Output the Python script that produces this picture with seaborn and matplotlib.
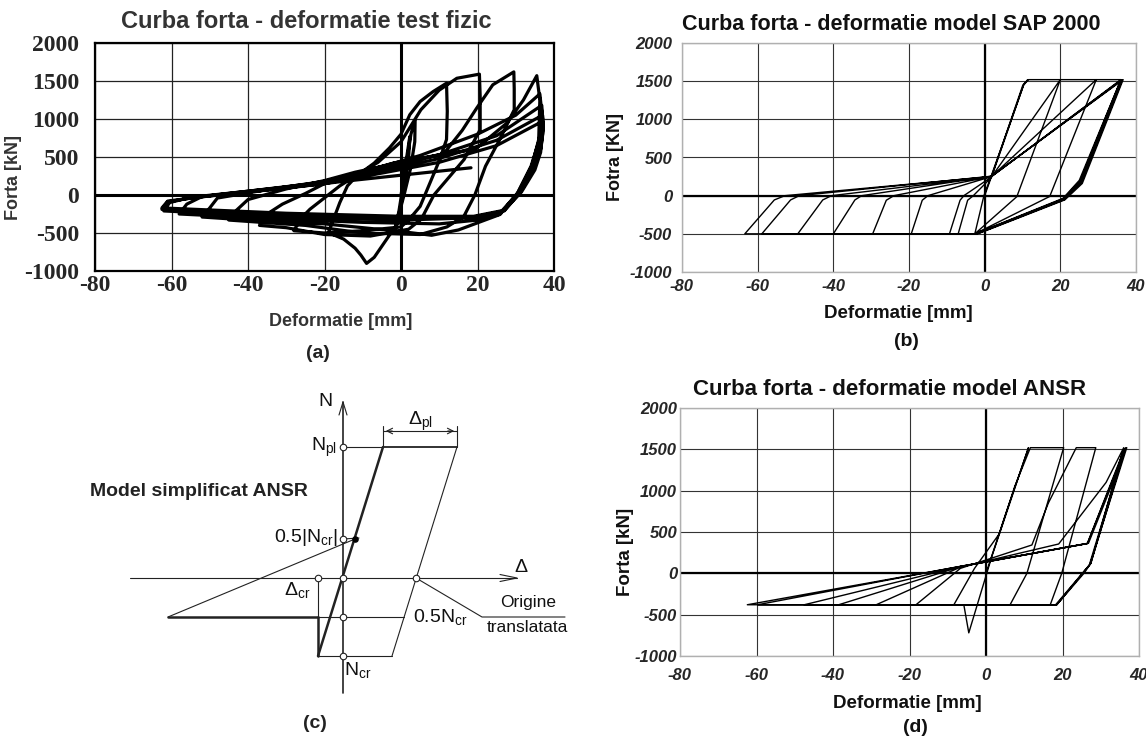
#%%
import numpy as np
import pandas as pd
import matplotlib
matplotlib.use('Agg')
import matplotlib.pyplot as plt
import seaborn as sns
from matplotlib.ticker import MultipleLocator

#%% Data
ticks_x = [-80, -60, -40, -20, 0, 20, 40]
ticks_y = [-1000, -500, 0, 500, 1000, 1500, 2000]

# (a) physical test, one continuous load history
a_x = [0, 1.2, 2.6, 3.7, 3.6, 2.5, 0.8, -0.8, -1.5, -0.5, 0.6, 1.5, 2.3, 2.0, 0.5, -1,
       -4, -7, -9, -10.5, -12, -15, -19,
       -17.5, -16, -14, -11.6, -7, -3, 0, 2.3, 5, 8.4, 11.9,
       12.1, 11.9, 10, 7.5, 5, 2,
       0, -10, -20, -28,
       -26, -23.8, -16, -11.6, -6, 0, 5.2, 10, 14.6, 20.5,
       20.7, 20.7, 16.5, 8.6, 5.3,
       2, -8, -20, -30, -37,
       -35, -31, -25, -20, -12, -2, 11, 16, 19.8, 24, 29.5,
       29.6, 29.6, 25.8, 22.1, 19.3, 16.4,
       12, 5, -10, -25, -45,
       -43, -40, -30, -20, -12, 0, 10, 19.3, 27.7, 32, 35.5,
       36.3, 36, 34.2, 30.5, 25.8, 20.2,
       15, 8, 0, -20, -40, -52,
       -50, -48, -35, -20, -10, 5, 20, 30, 36.3,
       37, 36, 34, 30.5, 26, 20,
       10, -10, -30, -58,
       -56, -52, -40, -20, -10, 10, 25, 36.8,
       37.2, 36.3, 34.5, 31, 26, 19,
       0, -30, -62,
       -60.5, -55, -40, -20, -10, 10, 25, 37,
       37.2, 36.5, 34.8, 31.5, 27, 19,
       0, -30, -62.5,
       -61, -55, -40, -20, -8, 10, 25, 37,
       37, 36.5, 35, 31.5, 27, 19,
       0, -30, -62.5,
       -61, -50, -30, -15, 0, 18.3]
a_y = [0, 350, 800, 990, 700, 350, 0, -300, -450, -200, 150, 500, 770, 500, 0, -380,
       -600, -820, -900, -790, -700, -580, -495,
       -300, -100, 120, 250, 420, 620, 800, 1056, 1230, 1361, 1471,
       1100, 730, 450, 150, -150, -330,
       -420, -470, -500, -470,
       -300, -187, 120, 260, 430, 700, 1122, 1380, 1536, 1590,
       1300, 860, 467, 0, -318,
       -450, -540, -520, -430, -400,
       -250, -120, 20, 150, 280, 420, 533, 850, 1144, 1450, 1620,
       1400, 1122, 729, 380, 0, -284,
       -420, -520, -500, -400, -330,
       -200, -60, 80, 190, 300, 430, 530, 598, 947, 1250, 1570,
       1250, 729, 380, 22, -258, -362,
       -460, -530, -480, -380, -330, -290,
       -170, -40, 70, 180, 300, 520, 800, 1050, 1330,
       1000, 700, 380, 30, -250, -330,
       -380, -360, -320, -250,
       -120, -20, 50, 170, 280, 530, 780, 1180,
       900, 650, 380, 50, -230, -300,
       -330, -290, -210,
       -100, -30, 50, 160, 260, 480, 720, 1050,
       850, 600, 350, 60, -210, -290,
       -300, -260, -190,
       -90, -40, 40, 150, 260, 430, 650, 970,
       800, 560, 330, 40, -200, -280,
       -280, -240, -170,
       -80, -10, 90, 180, 260, 358]

# (b) SAP 2000 model
b_x = [0, 1.8, 10.1, 11.4, 10.3, 1.6, -0.2, -2.6, -7, -4.5, -3, 1.8, 10.3, 11.6, 20,
       8.5, -2.6, -9.3, -6.5, -5.5, 1.8, 20, 29.5,
       17.2, -2.6, -19.4, -16.5, -15, 1.8, 29.5, 36,
       25, 20.7, -2.6, -29.6, -26, -24, 1.8, 36,
       25.2, 20.8, -2.4, -40, -34.3, -32.5, 1.8, 36.2,
       25.4, 21, -2.2, -49.4, -42.8, -40.5, 1.8, 36.4,
       25.6, 21.1, -2.0, -58.9, -51.3, -49, 1.8, 36.6,
       25.8, 21.2, -1.8, -63.4, -55.6, -52.8, 1.8]
b_y = [0, 250, 1450, 1520, 1450, 240, 0, -500, -500, -60, 0, 240, 1450, 1520, 1520,
       -13, -500, -500, -60, 0, 245, 1520, 1520,
       -10, -500, -500, -60, 0, 250, 1520, 1520,
       200, -35, -500, -500, -60, 0, 250, 1520,
       190, -40, -500, -500, -56, 0, 255, 1520,
       180, -45, -500, -500, -56, 0, 250, 1520,
       170, -50, -500, -500, -56, 0, 255, 1520,
       160, -55, -500, -500, -56, 0, 250]

# (d) ANSR model
d_x = [0, 5, 11.1, 1.5, -4.5, -5.8, -8.4,
       -3, 3.5, 7.5, 11.6, 20.3,
       10.7, 6.3, -18.3,
       -6.7, 12, 16.3, 23.6, 28.7,
       19.8, 16.8, -28.7,
       -6.7, 19, 31.4, 36,
       27.4, 25.6, 18.5, -38.5,
       -6.7, 26.5, 36.5,
       27.4, 18.5, -47.5,
       -6.7, 26.5, 36.2,
       27, 18.2, -59.7,
       -6.7, 26.8, 36.8,
       27.2, 18.5, -62.4,
       26.5]
d_y = [0, 700, 1520, 200, -720, -380, -380,
       60, 480, 1050, 1520, 1520,
       0, -380, -380,
       60, 343, 850, 1520, 1520,
       0, -380, -380,
       75, 355, 1100, 1520,
       120, 0, -380, -380,
       80, 360, 1520,
       120, -380, -380,
       82, 362, 1510,
       100, -380, -380,
       85, 365, 1520,
       110, -380, -380,
       360]

# (c) simplified ANSR model sketch (units: arbitrary, origin at axis crossing)
c_haxis_x, c_haxis_y = [-213, 174], [0, 0]
c_vaxis_x, c_vaxis_y = [0, 0], [-115, 176]
c_harrow_x, c_harrow_y = [157, 174, 157], [3.5, 0, -3.5]
c_varrow_x, c_varrow_y = [-4, 0, 4], [163, 176, 163]
c_elastic_x, c_elastic_y = [-25, 40], [-78, 131]
c_nplline_x, c_nplline_y = [0, 40], [131, 131]
c_top_x, c_top_y = [40, 114], [131, 131]
c_unload_x, c_unload_y = [114, 49], [131, -78]
c_bottom_x, c_bottom_y = [-25, 49], [-78, -78]
c_drop_x, c_drop_y = [-25, -25], [-78, -39]
c_dcr_x, c_dcr_y = [-25, -25], [-39, 0]
c_half_x, c_half_y = [-175, -25], [-39, -39]
c_half2_x, c_half2_y = [-25, 61], [-39, -39]
c_reload_x, c_reload_y = [-175, 12], [-39, 39]
c_mark_x, c_mark_y = [0, 16], [39, 40]
c_dim_x, c_dim_y = [40, 114], [147, 147]
c_ext1_x, c_ext1_y = [40, 40], [131, 152]
c_ext2_x, c_ext2_y = [114, 114], [131, 152]
c_leader_x, c_leader_y = [73, 139, 222], [0, -39, -39]
c_circ_x = [0, 0, 0, -25, 73, 0, 0]
c_circ_y = [131, 39, 0, 0, 0, -39, -78]
c_dot_x, c_dot_y = [12], [39]

#%% Figure
sns.set_style('white')
plt.rcParams['font.family'] = ['Liberation Sans', 'DejaVu Sans']
plt.rcParams['mathtext.fontset'] = 'custom'
plt.rcParams['mathtext.rm'] = 'Liberation Sans'
plt.rcParams['mathtext.it'] = 'Liberation Sans:italic'

W, H = 1146, 740
fig = plt.figure(figsize=(W / 100, H / 100), dpi=100)


def box(l, t, r, b):
    return fig.add_axes([l / W, 1 - b / H, (r - l) / W, (b - t) / H])


def ftext(x, y, s, **kw):
    kw.setdefault('ha', 'center')
    kw.setdefault('va', 'center')
    fig.text(x / W, 1 - y / H, s, **kw)


def curve_axes(ax, xs, ys, lw):
    sns.lineplot(x=xs, y=ys, sort=False, estimator=None, color='k', lw=lw, ax=ax)
    ax.set_xlim(-80, 40)
    ax.set_ylim(-1000, 2000)
    ax.set_xticks(ticks_x)
    ax.set_yticks(ticks_y)
    ax.set_axisbelow(True)
    ax.set_xlabel('')
    ax.set_ylabel('')


#%% (a)
ax = box(95, 43, 554, 271)
curve_axes(ax, a_x, a_y, 2.3)
serif = dict(fontfamily='Liberation Serif', fontweight='bold', fontsize=17)
ax.set_xticklabels([str(v) for v in ticks_x], **serif)
ax.set_yticklabels([str(v) for v in ticks_y], **serif)
ax.xaxis.set_minor_locator(MultipleLocator(5))
ax.yaxis.set_minor_locator(MultipleLocator(100))
ax.tick_params(which='major', direction='in', length=7, width=1.3, color='k')
ax.tick_params(which='minor', direction='in', length=4, width=1.0, color='k')
ax.tick_params(axis='x', pad=3)
ax.tick_params(axis='y', pad=11.5)
ax.grid(True, which='major', color='#222222', lw=0.9)
ax.axhline(0, color='k', lw=2.2)
ax.axvline(0, color='k', lw=2.2)
for s in ax.spines.values():
    s.set_color('k')
    s.set_linewidth(1.6)
ftext(306, 22, 'Curba forta - deformatie test fizic', fontsize=17, fontweight='bold', color='#333333')
ftext(14, 177, 'Forta [kN]', fontsize=13, fontweight='bold', color='#333333', rotation=90)
ftext(341, 321, 'Deformatie [mm]', fontsize=13, fontweight='bold', color='#333333')
ftext(318, 353, '(a)', fontsize=14, fontweight='bold', color='#222222')

#%% (b) and (d)
bi = dict(fontweight='bold', fontstyle='italic', fontsize=12)
for (l, t, r, b), xs, ys, xpad, ypad in [((682, 43, 1136, 272), b_x, b_y, 5, 7),
                                        ((680, 408, 1139, 656), d_x, d_y, 8.5, 2)]:
    ax = box(l, t, r, b)
    curve_axes(ax, xs, ys, 1.0)
    ax.set_xticklabels([str(v) for v in ticks_x], **bi)
    ax.set_yticklabels([str(v) for v in ticks_y], **bi)
    ax.tick_params(length=0)
    ax.tick_params(axis='x', pad=xpad)
    ax.tick_params(axis='y', pad=ypad)
    ax.grid(True, color='#333333', lw=0.8)
    ax.axhline(0, color='k', lw=1.6)
    ax.axvline(0, color='k', lw=1.6)
    for s in ax.spines.values():
        s.set_color('#b0b0b0')
        s.set_linewidth(1.0)

ftext(891, 25, 'Curba forta - deformatie model SAP 2000', fontsize=15.5, fontweight='bold', color='#111111')
ftext(616, 157, 'Fotra [KN]', fontsize=13, fontweight='bold', color='#111111', rotation=90)
ftext(898, 313, 'Deformatie [mm]', fontsize=13.5, fontweight='bold', color='#111111')
ftext(906, 342, '(b)', fontsize=14, fontweight='bold', color='#111111')

ftext(890, 390, 'Curba forta - deformatie model ANSR', fontsize=16, fontweight='bold', color='#111111')
ftext(625, 552, 'Forta [kN]', fontsize=13.5, fontweight='bold', color='#111111', rotation=90)
ftext(907, 703, 'Deformatie [mm]', fontsize=13.5, fontweight='bold', color='#111111')
ftext(915, 728, '(d)', fontsize=14, fontweight='bold', color='#111111')

#%% (c) sketch
ax = box(0, 375, 570, 740)
ax.set_xlim(-343, 227)
ax.set_ylim(-162, 203)
ax.axis('off')
thin = dict(color='#222222', lw=0.8)
thick = dict(color='#222222', lw=1.8)
for xs, ys, st in [(c_haxis_x, c_haxis_y, thin), (c_vaxis_x, c_vaxis_y, dict(color='#222222', lw=1.2)),
                   (c_harrow_x, c_harrow_y, thin), (c_varrow_x, c_varrow_y, thin),
                   (c_elastic_x, c_elastic_y, thick), (c_nplline_x, c_nplline_y, thin),
                   (c_top_x, c_top_y, dict(color='#222222', lw=1.3)), (c_unload_x, c_unload_y, thin),
                   (c_bottom_x, c_bottom_y, thin), (c_drop_x, c_drop_y, thick),
                   (c_dcr_x, c_dcr_y, thin), (c_half_x, c_half_y, thick),
                   (c_half2_x, c_half2_y, thin), (c_reload_x, c_reload_y, thin),
                   (c_mark_x, c_mark_y, thin), (c_dim_x, c_dim_y, thin),
                   (c_ext1_x, c_ext1_y, thin), (c_ext2_x, c_ext2_y, thin),
                   (c_leader_x, c_leader_y, thin)]:
    sns.lineplot(x=xs, y=ys, sort=False, estimator=None, ax=ax, **st)
ax.scatter(c_circ_x, c_circ_y, s=22, facecolors='white', edgecolors='#222222', lw=0.8, zorder=3)
ax.scatter(c_dot_x, c_dot_y, s=14, color='k', zorder=4)
# dimension arrow heads
ax.annotate('', xy=(c_dim_x[0], c_dim_y[0]), xytext=(c_dim_x[0] + 12, c_dim_y[0]),
            arrowprops=dict(arrowstyle='->', lw=0.8, color='#222222'))
ax.annotate('', xy=(c_dim_x[1], c_dim_y[1]), xytext=(c_dim_x[1] - 12, c_dim_y[1]),
            arrowprops=dict(arrowstyle='->', lw=0.8, color='#222222'))

reg = dict(fontsize=14, color='#111111')
ax.text(-18, 176, 'N', ha='center', va='center', **reg)
ax.text(178, 11, '\u0394', ha='center', va='center', **reg)
ax.text(77, 157, r'$\Delta_{\mathrm{pl}}$', ha='center', va='center', fontsize=14, color='#111111')
ax.text(-6, 131, r'N$_{\mathrm{pl}}$', ha='right', va='center', **reg)
ax.text(-5, 41, r'0.5|N$_{\mathrm{cr}}$|', ha='right', va='center', **reg)
ax.text(-46, -12, r'$\Delta_{\mathrm{cr}}$', ha='center', va='center', fontsize=14, color='#111111')
ax.text(70, -39, r'0.5N$_{\mathrm{cr}}$', ha='left', va='center', **reg)
ax.text(15, -92, r'N$_{\mathrm{cr}}$', ha='center', va='center', **reg)
ax.text(157, -25, 'Origine', ha='left', va='center', fontsize=12.5, color='#111111')
ax.text(144, -50, 'translatata', ha='left', va='center', fontsize=12.5, color='#111111')
ax.text(-253, 87, 'Model simplificat ANSR', ha='left', va='center', fontsize=14,
        fontweight='bold', color='#222222')
ax.text(-28, -145, '(c)', ha='center', va='center', fontsize=14, fontweight='bold', color='#222222')

fig.savefig('out.png', dpi=100)
